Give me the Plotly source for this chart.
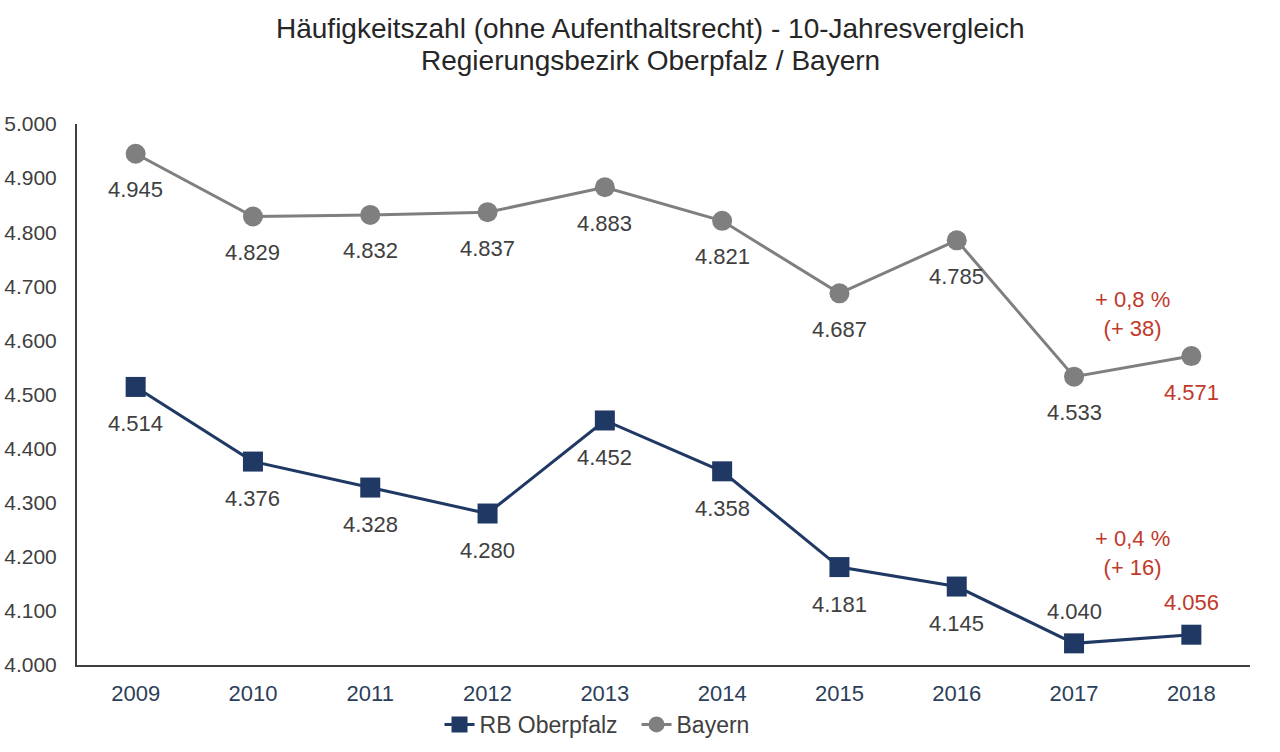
import plotly.graph_objects as go

years = ["2009", "2010", "2011", "2012", "2013", "2014", "2015", "2016", "2017", "2018"]
rb_oberpfalz = [4514, 4376, 4328, 4280, 4452, 4358, 4181, 4145, 4040, 4056]
bayern = [4945, 4829, 4832, 4837, 4883, 4821, 4687, 4785, 4533, 4571]
y_ticks = [4000, 4100, 4200, 4300, 4400, 4500, 4600, 4700, 4800, 4900, 5000]
delta_bayern = "+ 0,8 %<br>(+ 38)"
delta_rb = "+ 0,4 %<br>(+ 16)"
title_lines = ["Häufigkeitszahl (ohne Aufenthaltsrecht) - 10-Jahresvergleich",
               "Regierungsbezirk Oberpfalz / Bayern"]

NAVY = "#1f3864"
GRAY = "#7f7f7f"
RED = "#c0392b"
TXT = "#404040"
FONT = "Liberation Sans, Arial, sans-serif"
FS = 22


def fmt(v):
    return f"{v:,}".replace(",", ".")


idx = list(range(len(years)))

fig = go.Figure()
fig.add_trace(go.Scatter(x=idx, y=rb_oberpfalz, mode="lines+markers", name="RB Oberpfalz",
                         line=dict(color=NAVY, width=3),
                         marker=dict(symbol="square", size=20, color=NAVY)))
fig.add_trace(go.Scatter(x=idx, y=bayern, mode="lines+markers", name="Bayern",
                         line=dict(color=GRAY, width=3),
                         marker=dict(symbol="circle", size=20, color=GRAY)))

ann = []
n = len(years)
for i, v in enumerate(bayern):
    ann.append(dict(x=i, y=v, xref="x", yref="y", text=fmt(v), showarrow=False, yshift=-36,
                    font=dict(size=FS, color=RED if i == n - 1 else TXT, family=FONT)))
for i, v in enumerate(rb_oberpfalz):
    above = i >= n - 2
    ann.append(dict(x=i, y=v, xref="x", yref="y", text=fmt(v), showarrow=False,
                    yshift=32 if above else -37,
                    font=dict(size=FS, color=RED if i == n - 1 else TXT, family=FONT)))
ann.append(dict(x=n - 1.5, y=bayern[-1], xref="x", yref="y", text=delta_bayern, showarrow=False,
                yshift=42, font=dict(size=FS, color=RED, family=FONT)))
ann.append(dict(x=n - 1.5, y=rb_oberpfalz[-1], xref="x", yref="y", text=delta_rb, showarrow=False,
                yshift=82, font=dict(size=FS, color=RED, family=FONT)))
for k, line in enumerate(title_lines):
    ann.append(dict(x=0.4885, y=1.177 - k * 0.06, xref="paper", yref="paper", text=line,
                    showarrow=False, xanchor="center", yanchor="middle",
                    font=dict(size=28, color="#262626", family=FONT)))

fig.update_layout(
    width=1280, height=752,
    margin=dict(l=77, r=30, t=124, b=87, autoexpand=False),
    paper_bgcolor="white", plot_bgcolor="white",
    separators=",.",
    font=dict(family=FONT, size=FS, color=TXT),
    xaxis=dict(range=[-0.5, n - 0.5], tickvals=idx, ticktext=years, showline=True,
               linecolor=TXT, linewidth=2, showgrid=False, zeroline=False, automargin=False,
               ticks="", tickfont=dict(size=FS, color="#2c3e5a"), ticklabelstandoff=8),
    yaxis=dict(range=[4000, 5000], tickvals=y_ticks, tickformat=",.0f", showline=True,
               linecolor=TXT, linewidth=2, showgrid=False, zeroline=False, ticks="",
               automargin=False, tickfont=dict(size=21, color=TXT), ticklabelstandoff=14),
    legend=dict(orientation="h", x=0.477, xanchor="center", y=-0.11, yanchor="middle",
                font=dict(size=23, color=TXT), entrywidth=152, entrywidthmode="pixels"),
    annotations=ann,
    showlegend=True,
)

fig.write_html("out.html")
